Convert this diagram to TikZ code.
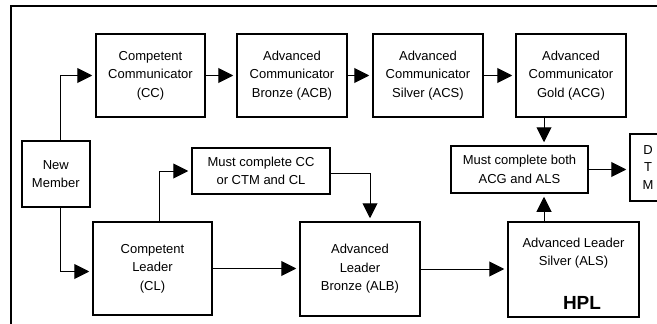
\documentclass[tikz,border=0pt]{standalone}
\usepackage{fontspec}
\setmainfont{Liberation Sans}
\usetikzlibrary{arrows.meta}
\begin{document}
\begin{tikzpicture}[x=1pt, y=-1pt,
    box/.style={draw, line width=1.5pt, align=center, inner sep=0pt,
                font=\fontsize{13}{18.5}\selectfont},
    txt/.style={align=center, inner sep=0pt, font=\fontsize{13}{18.5}\selectfont},
    arr/.style={line width=1pt, -{Triangle[length=15pt,width=15pt]}, shorten >=3pt}]
\useasboundingbox (0,0) rectangle (657,324);
\clip (0,0) rectangle (657,324);
\draw[line width=1.8pt] (11,6) rectangle (680,340);
% top row
\node[box, minimum width=109pt, minimum height=83pt] (cc) at (150.5,75.5) {Competent\\Communicator\\(CC)};
\node[box, minimum width=110pt, minimum height=83pt] (acb) at (292,75.5) {Advanced\\Communicator\\Bronze (ACB)};
\node[box, minimum width=110pt, minimum height=83pt] (acs) at (428,75.5) {Advanced\\Communicator\\Silver (ACS)};
\node[box, minimum width=110pt, minimum height=83pt] (acg) at (571,75.5) {Advanced\\Communicator\\Gold (ACG)};
% middle row
\node[box, minimum width=68pt, minimum height=66pt] (newmem) at (55.8,174) {New\\Member};
\node[box, minimum width=138pt, minimum height=46pt] (mustcc) at (261,171) {Must complete CC\\or CTM and CL};
\node[box, minimum width=137pt, minimum height=47pt] (mustboth) at (519.5,169.5) {Must complete both\\ACG and ALS};
\node[box, minimum width=36pt, minimum height=67pt, font=\fontsize{13}{17.5}\selectfont] (dtm) at (648,167.5) {D\\T\\M};
% bottom row
\node[box, minimum width=119pt, minimum height=93pt] (cl) at (152.5,268.5) {Competent\\Leader\\(CL)};
\node[box, minimum width=120pt, minimum height=94pt] (alb) at (360,269) {Advanced\\Leader\\Bronze (ALB)};
\node[box, minimum width=131pt, minimum height=95pt] (als) at (573.5,269.5) {};
\node[txt] (alstxt) at (573.5,253) {Advanced Leader\\Silver (ALS)};
\node[inner sep=0pt, font=\fontsize{19}{20}\bfseries] (hpl) at (582,303) {HPL};
% connectors
\draw[arr] (cc.east) -- (acb.west);
\draw[arr] (acb.east) -- (acs.west);
\draw[arr] (acs.east) -- (acg.west);
\draw[arr] ([xshift=5pt]newmem.north) |- (cc.west);
\draw[arr] ([xshift=5pt]newmem.south) |- ([yshift=-3pt]cl.west);
\draw[arr] ([xshift=6.5pt]cl.north) |- (mustcc.west);
\draw[arr] ([yshift=-2pt]mustcc.east) -| ([xshift=10pt]alb.north);
\draw[arr] (cl.east) -- (cl.east -| alb.west);
\draw[arr] (alb.east) -- (alb.east -| als.west);
\coordinate (mbtop) at ([xshift=24.5pt]mustboth.north);
\coordinate (mbbot) at ([xshift=24.5pt]mustboth.south);
\draw[arr] (acg.south -| mbtop) -- (mbtop);
\draw[arr] (als.north -| mbbot) -- (mbbot);
\draw[arr] (mustboth.east) -- (mustboth.east -| dtm.west);
\end{tikzpicture}
\end{document}
